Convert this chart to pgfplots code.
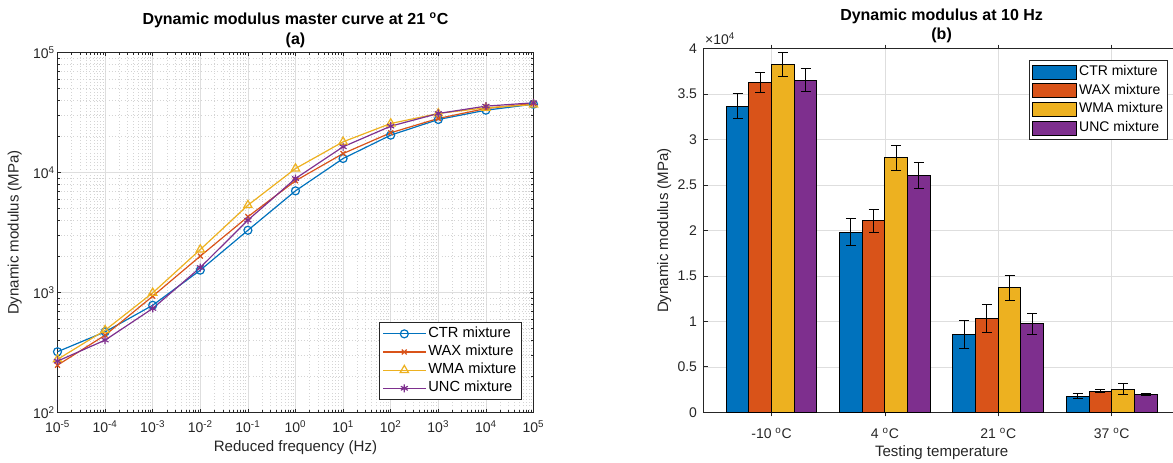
\documentclass[border=0pt]{standalone}
\usepackage{fontspec}
\setmainfont{Liberation Sans}
\usepackage{pgfplots}
\usepackage{pgfplotstable}
\pgfplotsset{compat=1.18}

\definecolor{cblue}{RGB}{0,114,189}
\definecolor{corange}{RGB}{217,83,25}
\definecolor{cyellow}{RGB}{237,177,32}
\definecolor{cpurple}{RGB}{126,47,142}
\definecolor{axgray}{RGB}{38,38,38}

% master curve at 21 C (MPa)
\pgfplotstableread{
f     ctr    wax    wma    unc
1e-5  321    248    277    268
1e-4  470    441    485    401
1e-3  783    931    993    736
1e-2  1535   2010   2280   1615
1e-1  3300   4280   5340   4010
1e0   7030   8530   10790  8910
1e1   13080  14390  18020  16380
1e2   20470  21430  25600  24320
1e3   27650  28200  31030  31030
1e4   33050  34150  34600  35720
1e5   37060  37580  36800  38100
}\master

% dynamic modulus at 10 Hz (MPa) with error
\pgfplotstableread{
x  ctr    ctre  wax    waxe  wma    wmae  unc    unce
1  33660  1370  36260  1120  38240  1320  36520  1250
2  19820  1470  21060  1250  27990  1350  26010  1430
3  8530   1540  10290  1540  13700  1360  9740   1140
4  1790   300   2340   130   2530   620   1980   110
}\bars

\pgfplotsset{
  mat/.style={
    scale only axis, anchor=south west,
    axis line style={axgray, line width=0.6pt},
    tick style={axgray, line width=0.6pt},
    major tick length=3pt, minor tick length=1.8pt,
    tick label style={font=\fontsize{10.5}{12}\selectfont, text=axgray},
    label style={font=\fontsize{11.3}{13}\selectfont, text=axgray},
    major grid style={black!13, line width=0.5pt},
    minor grid style={black!17, dash pattern=on 0.6pt off 1.8pt, line width=0.5pt},
    legend cell align=left,
  },
}
\tikzset{ttl/.style={anchor=base, inner sep=0pt, font=\fontsize{12}{15}\selectfont\bfseries}}

\begin{document}
\begin{tikzpicture}
\begin{loglogaxis}[mat, name=lax,
  at={(43.125pt,37.125pt)}, width=357pt, height=270pt,
  xmin=1e-5, xmax=1e5, ymin=1e2, ymax=1e5,
  xtick={1e-5,1e-4,1e-3,1e-2,1e-1,1e0,1e1,1e2,1e3,1e4,1e5},
  xticklabels={10\textsuperscript{-5},10\textsuperscript{-4},10\textsuperscript{-3},10\textsuperscript{-2},10\textsuperscript{-1},10\textsuperscript{0},10\textsuperscript{1},10\textsuperscript{2},10\textsuperscript{3},10\textsuperscript{4},10\textsuperscript{5}},
  minor xtick={2e-5,3e-5,4e-5,5e-5,6e-5,7e-5,8e-5,9e-5,
    2e-4,3e-4,4e-4,5e-4,6e-4,7e-4,8e-4,9e-4,
    2e-3,3e-3,4e-3,5e-3,6e-3,7e-3,8e-3,9e-3,
    2e-2,3e-2,4e-2,5e-2,6e-2,7e-2,8e-2,9e-2,
    2e-1,3e-1,4e-1,5e-1,6e-1,7e-1,8e-1,9e-1,
    2,3,4,5,6,7,8,9,
    20,30,40,50,60,70,80,90,
    200,300,400,500,600,700,800,900,
    2e3,3e3,4e3,5e3,6e3,7e3,8e3,9e3,
    2e4,3e4,4e4,5e4,6e4,7e4,8e4,9e4},
  ytick={1e2,1e3,1e4,1e5},
  yticklabels={10\textsuperscript{2},10\textsuperscript{3},10\textsuperscript{4},10\textsuperscript{5}},
  minor ytick={200,300,400,500,600,700,800,900,
    2e3,3e3,4e3,5e3,6e3,7e3,8e3,9e3,
    2e4,3e4,4e4,5e4,6e4,7e4,8e4,9e4},
  grid=both,
  xticklabel style={anchor=base, inner sep=0pt, yshift=-15.2pt},
  yticklabel style={anchor=east, inner sep=0pt, xshift=-1.9pt},
  xlabel={Reduced frequency (Hz)},
  ylabel={Dynamic modulus (MPa)},
  xlabel style={at={(axis description cs:0.5,0)}, anchor=base, inner sep=0pt, yshift=-29.6pt},
  ylabel style={at={([xshift=-29.1pt]axis description cs:0,0.5)}, anchor=base, inner sep=0pt},
  legend style={at={(1,0)}, anchor=south east, xshift=-8.85pt, yshift=9.4pt,
    draw=axgray, line width=0.75pt, fill=white,
    font=\fontsize{11}{13}\selectfont, inner xsep=2pt, inner ysep=1.6pt,
    nodes={inner xsep=1.6pt, inner ysep=2.1pt, text height=0.72em, text depth=0.22em}},
  legend image code/.code={\draw[mark repeat=2,mark phase=2,#1] plot coordinates {(0pt,0pt) (16pt,0pt) (32pt,0pt)};},
]
\addplot[cblue, line width=0.9pt, mark=o, mark size=3pt, mark options={solid}] table[x=f,y=ctr]{\master};
\addplot[corange, line width=0.9pt, mark=x, mark size=2.6pt, mark options={solid}] table[x=f,y=wax]{\master};
\addplot[cyellow, line width=0.9pt, mark=triangle, mark size=3.6pt, mark options={solid}] table[x=f,y=wma]{\master};
\addplot[cpurple, line width=0.9pt, mark=asterisk, mark size=3pt, mark options={solid}] table[x=f,y=unc]{\master};
\legend{CTR mixture, WAX mixture, WMA mixture, UNC mixture}
\end{loglogaxis}

\begin{axis}[mat, name=rax,
  at={(527.625pt,37.275pt)}, width=357.15pt, height=272.7pt,
  xmin=0.4, xmax=4.6, ymin=0, ymax=40000,
  xtick={1,2,3,4},
  xticklabels={-10 \textsuperscript{o}C, 4 \textsuperscript{o}C, 21 \textsuperscript{o}C, 37 \textsuperscript{o}C},
  ytick={0,5000,10000,15000,20000,25000,30000,35000,40000},
  yticklabels={0,0.5,1,1.5,2,2.5,3,3.5,4},
  scaled y ticks=false,
  grid=major,
  ybar, bar width=0.2,
  xticklabel style={anchor=base, inner sep=0pt, yshift=-16.8pt},
  yticklabel style={anchor=east, inner sep=0pt, xshift=-4.7pt},
  xlabel={Testing temperature},
  ylabel={Dynamic modulus (MPa)},
  xlabel style={at={(axis description cs:0.5,0)}, anchor=base, inner sep=0pt, yshift=-32.8pt},
  ylabel style={at={([xshift=-26.6pt]axis description cs:0,0.5)}, anchor=base, inner sep=0pt},
  legend style={at={(1,1)}, anchor=north east, xshift=-8.55pt, yshift=-8.5pt,
    draw=axgray, line width=0.75pt, fill=white,
    font=\fontsize{10.5}{12}\selectfont, inner xsep=2pt, inner ysep=1.6pt,
    nodes={inner xsep=1.5pt, inner ysep=2.3pt, text height=0.72em, text depth=0.22em}},
  legend image code/.code={\draw[#1] (0pt,-5.25pt) rectangle (33pt,5.25pt);},
  error bars/error bar style={black, line width=0.75pt},
  error bars/error mark options={rotate=90, mark size=3.75pt, black, line width=0.75pt},
]
\addplot[fill=cblue, draw=black, line width=0.75pt, bar shift=-0.3,
  error bars/.cd, y dir=both, y explicit] table[x=x,y=ctr,y error=ctre]{\bars};
\addplot[fill=corange, draw=black, line width=0.75pt, bar shift=-0.1,
  error bars/.cd, y dir=both, y explicit] table[x=x,y=wax,y error=waxe]{\bars};
\addplot[fill=cyellow, draw=black, line width=0.75pt, bar shift=0.1,
  error bars/.cd, y dir=both, y explicit] table[x=x,y=wma,y error=wmae]{\bars};
\addplot[fill=cpurple, draw=black, line width=0.75pt, bar shift=0.3,
  error bars/.cd, y dir=both, y explicit] table[x=x,y=unc,y error=unce]{\bars};
\legend{CTR mixture, WAX mixture, WMA mixture, UNC mixture}
\end{axis}
\node[anchor=base west, inner sep=0pt, font=\fontsize{10.5}{12}\selectfont, text=axgray]
  at ([xshift=1.1pt, yshift=2.8pt]rax.north west) {×10\textsuperscript{4}};
% titles
\node[ttl] at ([yshift=21pt]lax.north) {Dynamic modulus master curve at 21 \textsuperscript{o}C};
\node[ttl] at ([yshift=6pt]lax.north) {(a)};
\node[ttl] at ([yshift=20.8pt]rax.north) {Dynamic modulus at 10 Hz};
\node[ttl] at ([yshift=6.9pt]rax.north) {(b)};
\pgfresetboundingbox
\path (0,0) rectangle (879.75pt,346.5pt);
\end{tikzpicture}
\end{document}
